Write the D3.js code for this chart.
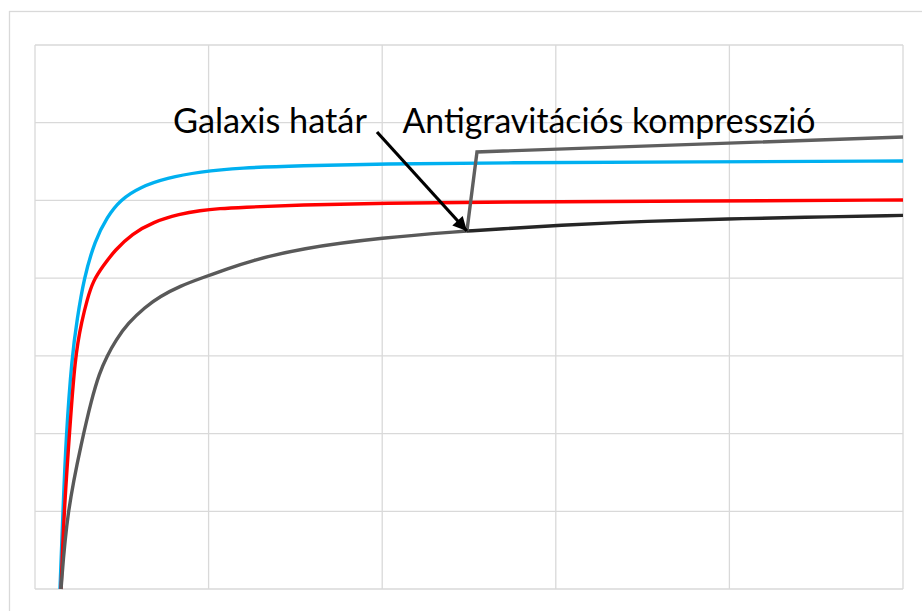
<!DOCTYPE html>
<html>
<head>
<meta charset="utf-8">
<script src="https://cdn.jsdelivr.net/npm/d3@7"></script>
<style>
  body { margin: 0; background: #fff; }
  svg { display: block; }
</style>
</head>
<body>
<svg id="chart" width="922" height="611"></svg>
<script>
// rotation curve style chart (x: 0-50, y: 0-350)
const x_ticks = [0, 10, 20, 30, 40, 50];
const y_ticks = [0, 50, 100, 150, 200, 250, 300, 350];

const blue_x = [1.44, 1.61, 1.79, 2.13, 2.42, 2.82, 3.46, 4.15, 4.90, 6.05, 7.60, 9.50, 11.81, 15.27, 19.99, 26.79, 38.31, 50.0];
const blue_y = [0, 49.5, 98.4, 149.9, 173.1, 200.1, 224.5, 239.3, 250.3, 258.6, 264.5, 268.4, 271.0, 272.3, 273.6, 274.2, 274.8, 275.4];

const red_x = [1.50, 1.67, 1.96, 2.30, 2.71, 3.00, 3.34, 3.92, 4.61, 5.59, 6.80, 8.35, 9.50, 10.66, 11.81, 15.27, 19.99, 26.79, 38.31, 50.0];
const red_y = [0, 49.5, 95.9, 149.9, 173.1, 186.0, 198.2, 207.8, 218.1, 228.4, 236.2, 241.3, 243.5, 244.8, 245.5, 247.1, 248.3, 249.0, 249.6, 250.3];

// inside the galaxy (gray) up to the border
const gray_x = [1.50, 1.84, 2.71, 3.25, 3.71, 4.15, 4.66, 5.36, 6.34, 7.20, 8.35, 9.68, 11.06, 12.38, 15.27, 19.99, 24.88];
const gray_y = [0, 49.5, 95.9, 121.6, 139.0, 149.9, 160.2, 171.1, 181.4, 188.2, 194.9, 200.4, 205.9, 211.0, 219.1, 226.1, 230.3];

// beyond the border
const outer_x = [24.88, 26.79, 29.95, 35.43, 39.98, 44.07, 50.0];
const outer_y = [230.3, 231.6, 233.9, 236.8, 238.1, 239.1, 240.4];

const comp_x = [24.88, 25.46, 50.0];
const comp_y = [230.3, 281.2, 290.8];

const label_border = "Galaxis határ";
const label_comp = "Antigravitációs kompresszió";

////////////////
const svg = d3.select("#chart");
const W = 922, H = 611;

const plot = { left: 35, top: 45, right: 903, bottom: 589 };

let x = d3.scaleLinear().domain([0, 50]).range([plot.left, plot.right]);
let y = d3.scaleLinear().domain([0, 350]).range([plot.bottom, plot.top]);

svg.append("rect")
    .attr("width", W).attr("height", H)
    .attr("fill", "#fff");

// outer chart frame (runs off the right/bottom edge)
svg.append("rect")
    .attr("x", 9.5).attr("y", 11.5)
    .attr("width", 1000).attr("height", 1000)
    .attr("fill", "none")
    .attr("stroke", "#d9d9d9")
    .attr("stroke-width", 1.3);

let grid = svg.append("g").attr("class", "grid");

grid.selectAll(".vx")
    .data(x_ticks)
    .enter().append("line")
    .attr("x1", d => x(d)).attr("x2", d => x(d))
    .attr("y1", y(0)).attr("y2", y(350))
    .attr("stroke", "#d9d9d9")
    .attr("stroke-width", 1.3);

grid.selectAll(".hy")
    .data(y_ticks)
    .enter().append("line")
    .attr("x1", x(0)).attr("x2", x(50))
    .attr("y1", d => y(d)).attr("y2", d => y(d))
    .attr("stroke", "#d9d9d9")
    .attr("stroke-width", 1.3);

const zip = (xs, ys) => xs.map((v, i) => [v, ys[i]]);

// b-spline evens out the small reading errors of the points
let smooth = d3.line()
    .x(d => x(d[0])).y(d => y(d[1]))
    .curve(d3.curveBasis);

let straight = d3.line()
    .x(d => x(d[0])).y(d => y(d[1]));

let lines = svg.append("g")
    .attr("fill", "none")
    .attr("stroke-width", 3.4)
    .attr("stroke-linejoin", "round");

lines.append("path").attr("d", smooth(zip(blue_x, blue_y))).attr("stroke", "#00b0f0");
lines.append("path").attr("d", smooth(zip(red_x, red_y))).attr("stroke", "#ff0000");
lines.append("path").attr("d", smooth(zip(outer_x, outer_y))).attr("stroke", "#262626");
lines.append("path").attr("d", smooth(zip(gray_x, gray_y))).attr("stroke", "#595959");
lines.append("path").attr("d", straight(zip(comp_x, comp_y)))
    .attr("stroke", "#5f5f5f")
    .attr("stroke-linejoin", "miter");

// annotation + arrow
svg.append("defs").append("marker")
    .attr("id", "arrowhead")
    .attr("viewBox", "0 0 10 10")
    .attr("refX", 10).attr("refY", 5)
    .attr("markerUnits", "userSpaceOnUse")
    .attr("markerWidth", 16).attr("markerHeight", 14)
    .attr("orient", "auto")
    .append("path")
    .attr("d", "M0,0 L10,5 L0,10 z")
    .attr("fill", "#000");

svg.append("line")
    .attr("x1", x(19.70)).attr("y1", y(294.0))
    .attr("x2", x(gray_x[gray_x.length - 1])).attr("y2", y(gray_y[gray_y.length - 1]))
    .attr("stroke", "#000")
    .attr("stroke-width", 3.2)
    .attr("marker-end", "url(#arrowhead)");

svg.append("text")
    .attr("x", x(19.12)).attr("y", y(293.4))
    .attr("text-anchor", "end")
    .attr("textLength", 194)
    .attr("lengthAdjust", "spacingAndGlyphs")
    .style("font-family", "Lato, 'Open Sans', sans-serif")
    .style("font-size", "35px")
    .attr("fill", "#000")
    .text(label_border);

svg.append("text")
    .attr("x", x(21.17)).attr("y", y(293.4))
    .attr("text-anchor", "start")
    .attr("textLength", 413)
    .attr("lengthAdjust", "spacingAndGlyphs")
    .style("font-family", "Lato, 'Open Sans', sans-serif")
    .style("font-size", "35px")
    .attr("fill", "#000")
    .text(label_comp);
</script>
</body>
</html>
